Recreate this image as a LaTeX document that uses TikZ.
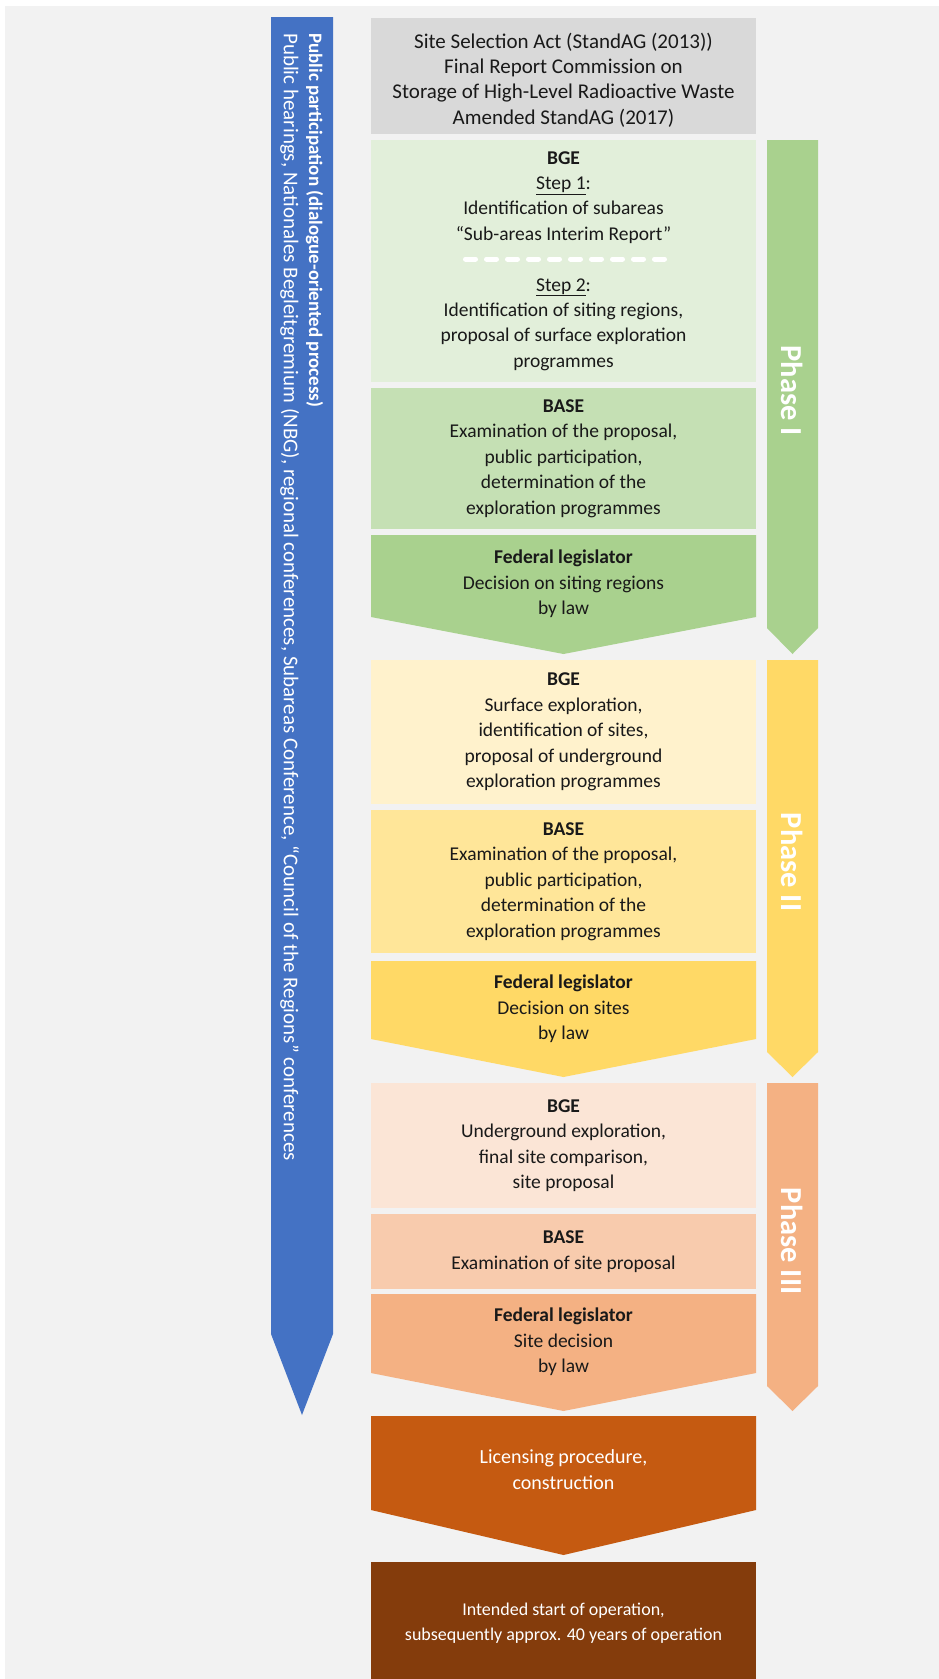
\documentclass[tikz,border=0pt]{standalone}
\usepackage{fontspec}
\setmainfont{Carlito}
\definecolor{pagegray}{HTML}{F2F2F2}
\definecolor{actgray}{HTML}{D9D9D9}
\definecolor{partblue}{HTML}{4472C4}
\definecolor{greenA}{HTML}{E2EFDA}
\definecolor{greenB}{HTML}{C5E0B4}
\definecolor{greenC}{HTML}{A9D18E}
\definecolor{yellowA}{HTML}{FFF2CC}
\definecolor{yellowB}{HTML}{FFE699}
\definecolor{yellowC}{HTML}{FFD966}
\definecolor{orangeA}{HTML}{FBE5D6}
\definecolor{orangeB}{HTML}{F8CBAD}
\definecolor{orangeC}{HTML}{F4B183}
\definecolor{licorange}{HTML}{C55A11}
\definecolor{opbrown}{HTML}{843C0C}
\tikzset{
        stagebox/.style={minimum width=385pt, inner sep=0pt, align=center,
                font=\fontsize{19.5}{25.4}\selectfont, text=black!90},
        stagetext/.style={inner sep=0pt, align=center,
                font=\fontsize{19.5}{25.4}\selectfont, text=black!90},
        phaselabel/.style={rotate=-90, inner sep=0pt, text=white,
                font=\fontsize{30.5}{30}\selectfont\bfseries}
}

\begin{document}
\begin{tikzpicture}[x=1pt,y=-1pt]
        \useasboundingbox (0,0) rectangle (939,1679);
        \fill[white] (0,0) rectangle (939,1679);
        \fill[pagegray] (5,6) rectangle (939,1679);

        \fill[partblue] (271,17) -- (333,17) -- (333,1334) -- (302,1415) -- (271,1334) -- cycle;
        \node[rotate=-90, anchor=north west, inner sep=0pt, align=left, text=white,
                font=\fontsize{19}{25.4}\selectfont] (participation) at (323.5,33)
                {\textbf{Public participation (dialogue-oriented process)}\\
                {\fontsize{21}{25.4}\selectfont Public hearings, Nationales Begleitgremium (NBG), regional conferences, Subareas Conference, “Council of the Regions” conferences}};

        \fill[actgray] (371,18) rectangle (756,134);
        \node[stagetext, font=\fontsize{21}{25.4}\selectfont] (act) at (563.5,80)
                {Site Selection Act (StandAG (2013))\\Final Report Commission on\\Storage of High-Level Radioactive Waste\\Amended StandAG (2017)};

        \node[stagebox, fill=greenA, minimum height=242pt] (bgeI) at (563.5,261)
                {\textbf{BGE}\\\underline{Step 1}:\\Identification of subareas\\“Sub-areas Interim Report”\\[25.4pt]
                \underline{Step 2}:\\Identification of siting regions,\\proposal of surface exploration\\programmes};
        \draw[white, line width=5pt, line cap=round, dash pattern=on 10pt off 11pt] (465.5,259) -- (664.5,259);
        \node[stagebox, fill=greenB, minimum height=141pt] (baseI) at (563.5,458.5)
                {\textbf{BASE}\\Examination of the proposal,\\public participation,\\determination of the\\exploration programmes};
        \fill[greenC] (371,535) -- (756,535) -- (756,617) -- (563.5,654) -- (371,617) -- cycle;
        \node[stagetext] (legI) at (563.5,584)
                {\textbf{Federal legislator}\\Decision on siting regions\\by law};

        \node[stagebox, fill=yellowA, minimum height=144pt] (bgeII) at (563.5,732)
                {\textbf{BGE}\\Surface exploration,\\identification of sites,\\proposal of underground\\exploration programmes};
        \node[stagebox, fill=yellowB, minimum height=143pt] (baseII) at (563.5,881.5)
                {\textbf{BASE}\\Examination of the proposal,\\public participation,\\determination of the\\exploration programmes};
        \fill[yellowC] (371,961) -- (756,961) -- (756,1039) -- (563.5,1077) -- (371,1039) -- cycle;
        \node[stagetext] (legII) at (563.5,1009)
                {\textbf{Federal legislator}\\Decision on sites\\by law};

        \node[stagebox, fill=orangeA, minimum height=125pt] (bgeIII) at (563.5,1145.5)
                {\textbf{BGE}\\Underground exploration,\\final site comparison,\\site proposal};
        \node[stagebox, fill=orangeB, minimum height=75pt] (baseIII) at (563.5,1251.5)
                {\textbf{BASE}\\Examination of site proposal};
        \fill[orangeC] (371,1294) -- (756,1294) -- (756,1373) -- (563.5,1411) -- (371,1373) -- cycle;
        \node[stagetext] (legIII) at (563.5,1342)
                {\textbf{Federal legislator}\\Site decision\\by law};

        \fill[licorange] (371,1416) -- (756,1416) -- (756,1510) -- (563.5,1555) -- (371,1510) -- cycle;
        \node[stagetext, text=white, font=\fontsize{20}{25.4}\selectfont] (licence) at (563.5,1469.5)
                {Licensing procedure,\\construction};
        \fill[opbrown] (371,1562) rectangle (756,1679);
        \node[stagetext, text=white, font=\fontsize{18}{25.4}\selectfont] (operation) at (563.5,1623)
                {Intended start of operation,\\subsequently approx. 40 years of operation};

        \fill[greenC] (767,140) -- (818,140) -- (818,628) -- (792.5,654) -- (767,628) -- cycle;
        \node[phaselabel] (phaseI) at (792.5,390.5) {Phase I};
        \fill[yellowC] (767,660) -- (818,660) -- (818,1052) -- (792.5,1077) -- (767,1052) -- cycle;
        \node[phaselabel] (phaseII) at (792.5,862) {Phase II};
        \fill[orangeC] (767,1083) -- (818,1083) -- (818,1386) -- (792.5,1411) -- (767,1386) -- cycle;
        \node[phaselabel] (phaseIII) at (792.5,1241) {Phase III};
\end{tikzpicture}
\end{document}
